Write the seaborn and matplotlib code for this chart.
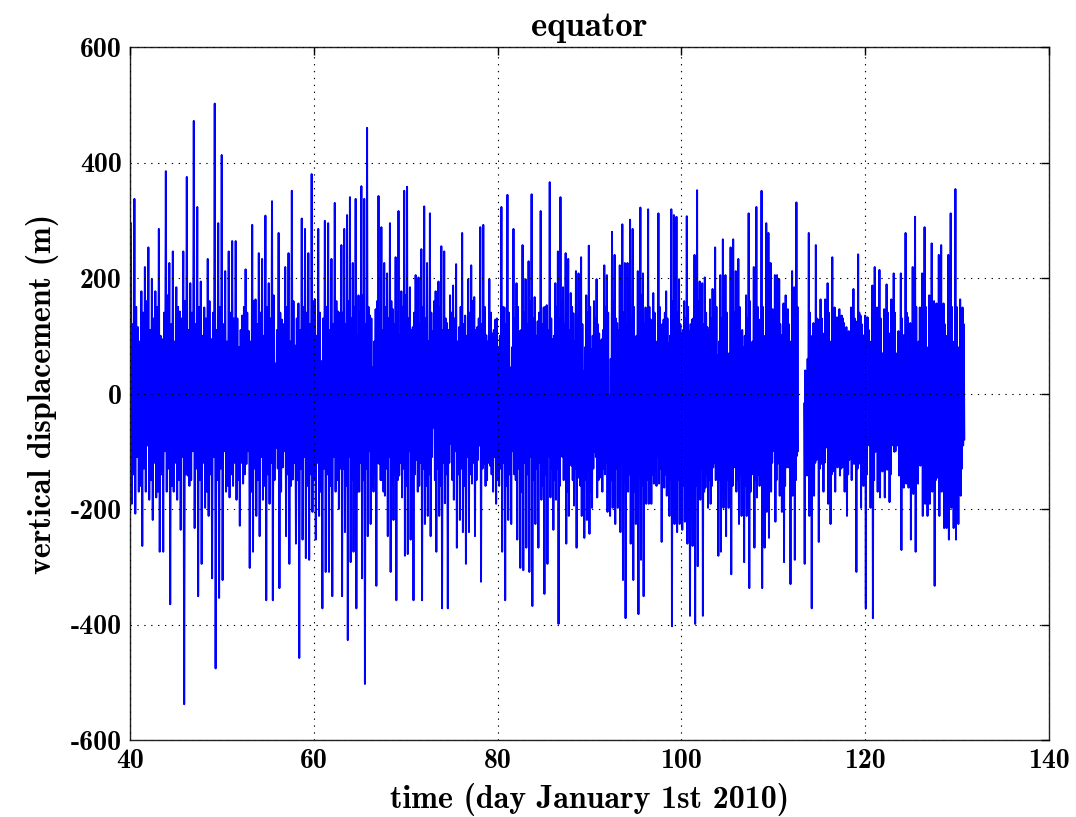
import numpy as np
import pandas as pd
import matplotlib
matplotlib.use("Agg")
import matplotlib.pyplot as plt
import seaborn as sns

# Vertical displacement record at the equator. Each stretch of days holds
# crest / trough pairs followed by the smaller swings between them.
segment_days = [
    (40.1, 51.5), (51.5, 63.0), (63.0, 74.5), (74.5, 86.0),
    (86.0, 97.5), (97.5, 109.0), (109.0, 112.75), (113.35, 120.0),
    (120.0, 130.85),
]
# piece id: a new piece starts after the data gap near day 113
segment_piece = [0, 0, 0, 0, 0, 0, 0, 1, 1]

highs_a = [295, 337, 115, 177, 219, 253, 198, 177, 285, 94, 385, 226, 246, 184, 142,
           246, 375, 191, 472, 323, 194, 149, 233, 94, 502, 295, 413, 212, 246, 264]
lows_a = [-191, -208, -170, -264, -170, -184, -219, -180, -274, -274, -170, -365, -170,
          -184, -236, -538, -142, -150, -233, -351, -295, -198, -212, -320, -476, -354,
          -323, -170, -180, -160]
up_a = [120, 150, 90, 140, 160, 110, 130, 150, 100, 140, 170, 120, 90, 150, 130, 160,
        110, 140, 120, 150, 100, 130, 160, 140, 110, 150, 120, 90, 140, 130]
dn_a = [-140, -110, -160, -130, -90, -150, -120, -170, -140, -100, -130, -160, -120,
        -150, -110, -140, -160, -100, -130, -150, -120, -170, -140, -110, -150, -130,
        -100, -160, -140, -120]

highs_b = [264, 80, 135, 215, 108, 292, 163, 243, 233, 308, 191, 333, 52, 278, 128, 219,
           243, 351, 83, 156, 303, 285, 243, 380, 163, 285, 56, 299, 295, 233, 330, 142]
lows_b = [-184, -229, -156, -122, -302, -274, -212, -247, -184, -358, -191, -358, -94,
          -337, -128, -247, -295, -149, -260, -458, -253, -285, -288, -205, -253, -212,
          -372, -309, -309, -351, -170, -200]
up_b = [130, 110, 150, 140, 90, 160, 120, 140, 100, 150, 130, 170, 110, 140, 120, 150,
        90, 160, 130, 110, 150, 140, 120, 160, 100, 140, 130, 150, 110, 120, 160, 140]
dn_b = [-150, -120, -140, -100, -170, -130, -150, -110, -160, -140, -120, -150, -130,
        -170, -100, -140, -160, -120, -150, -130, -110, -160, -140, -150, -120, -170,
        -130, -140, -160, -110, -150, -130]

highs_c = [257, 285, 309, 340, 226, 337, 170, 359, 337, 460, 135, 45, 146, 342, 288, 226,
           208, 295, 146, 236, 316, 177, 351, 358, 184, 115, 205, 201, 250, 324, 226, 312,
           108, 177, 194, 255, 246]
lows_c = [-351, -240, -427, -292, -274, -372, -170, -320, -503, -247, -226, -170, -333,
          -122, -150, -177, -247, -309, -219, -358, -142, -180, -281, -278, -253, -358,
          -115, -160, -358, -226, -212, -247, -59, -274, -212, -372, -190]
up_c = [140, 120, 160, 130, 150, 100, 140, 170, 120, 150, 130, 90, 160, 140, 110, 150,
        130, 160, 120, 140, 100, 150, 170, 130, 110, 140, 160, 120, 150, 130, 90, 140,
        160, 120, 150, 110, 130]
dn_c = [-130, -160, -110, -150, -140, -170, -120, -150, -130, -100, -160, -140, -120,
        -150, -170, -130, -110, -160, -140, -150, -120, -130, -160, -100, -150, -140,
        -170, -120, -130, -160, -140, -110, -150, -130, -160, -120, -140]

highs_d = [122, 170, 187, 224, 115, 278, 135, 198, 222, 167, 115, 288, 292, 101, 198, 104,
           128, 80, 323, 149, 344, 45, 285, 191, 108, 257, 198, 229, 345, 167, 125, 316,
           149, 153, 366]
lows_d = [-372, -87, -184, -267, -219, -240, -295, -240, -156, -247, -115, -326, -122,
          -150, -125, -170, -191, -160, -274, -358, -219, -226, -140, -253, -302, -306,
          -267, -309, -368, -226, -267, -184, -347, -295, -180]
up_d = [110, 140, 130, 90, 150, 120, 100, 140, 160, 110, 130, 120, 150, 90, 140, 110,
        130, 100, 150, 120, 140, 80, 130, 150, 110, 140, 120, 160, 130, 100, 140, 120,
        150, 110, 130]
dn_d = [-120, -150, -100, -140, -130, -160, -110, -140, -120, -150, -90, -130, -160,
        -120, -140, -110, -150, -130, -120, -160, -140, -100, -150, -130, -170, -120,
        -140, -110, -150, -130, -120, -160, -140, -110, -130]

highs_e = [94, 191, 246, 340, 184, 243, 233, 174, 139, 212, 208, 236, 38, 170, 256, 76,
           160, 198, 104, 94, 222, 205, -3, 280, 240, 122, 222, 293, 226, 226, 301, 285,
           97, 212, 322, 208, 149, 319, 128, 174, 69]
lows_e = [-236, -184, -399, -66, -150, -260, -212, -125, -194, -267, -146, -212, -250,
          -219, -243, -198, -101, -180, -146, -170, -140, -205, -212, -198, -226, -198,
          -240, -323, -389, -170, -260, -323, -226, -382, -288, -351, -191, -191, -191,
          -156, -160]
up_e = [100, 150, 130, 160, 120, 140, 110, 150, 90, 130, 160, 120, 80, 140, 150, 100,
        130, 120, 90, 110, 150, 140, 60, 160, 130, 110, 150, 140, 120, 160, 130, 150,
        100, 140, 170, 120, 130, 150, 110, 140, 90]
dn_e = [-150, -130, -160, -110, -140, -170, -120, -150, -130, -100, -160, -140, -150,
        -120, -170, -130, -110, -150, -140, -130, -120, -160, -150, -140, -130, -170,
        -120, -150, -160, -140, -130, -170, -150, -140, -160, -130, -150, -120, -140,
        -130, -110]

highs_f = [312, 115, 128, 177, 87, 319, 309, 306, 198, 101, 160, 307, 108, 128, 240, 352,
           194, 191, 201, 115, 163, 181, 253, 66, 205, 267, 205, 10, 253, 267, 212, 233,
           104, 80, 170, 312, 66, 219, 323, 128, 351]
lows_f = [-156, -257, -163, -177, -212, -403, -226, -240, -226, -236, -222, -260, -385,
          -264, -399, -299, -184, -385, -163, -198, -191, -128, -150, -281, -274, -198,
          -247, -198, -313, -128, -170, -226, -212, -292, -212, -337, -140, -267, -180,
          -160, -337]
up_f = [150, 120, 140, 130, 100, 160, 150, 140, 120, 110, 130, 150, 120, 130, 140, 160,
        130, 120, 140, 110, 130, 140, 150, 90, 130, 150, 140, 70, 150, 140, 130, 150,
        110, 100, 130, 160, 90, 140, 150, 120, 150]
dn_f = [-130, -150, -140, -160, -150, -170, -140, -150, -130, -160, -150, -140, -170,
        -150, -160, -140, -130, -170, -140, -150, -160, -120, -140, -150, -170, -140,
        -150, -130, -160, -120, -150, -140, -130, -160, -150, -170, -130, -150, -140,
        -130, -160]

highs_g = [87, 295, 278, 226, 146, 205, 205, 198, 101, 156, 170, 146, 80, 212, 184, 331]
lows_g = [-267, -205, -250, -170, -73, -222, -122, -177, -205, -292, -128, -128, -330,
          -177, -288, -108]
up_g = [100, 150, 140, 130, 110, 140, 130, 120, 100, 130, 140, 120, 90, 140, 130, 150]
dn_g = [-140, -130, -150, -120, -100, -150, -110, -140, -150, -160, -120, -110, -160,
        -130, -150, -100]

highs_h = [-17, 38, 278, 94, 122, 257, 128, 163, 104, 163, 191, 80, 236, 149, 132, 146,
           135, 122, 115, 108, 149, 181, 125, 241, 135, 101]
lows_h = [-295, -142, -212, -372, -177, -115, -257, -122, -170, -94, -191, -226, -135,
          -170, -128, -142, -128, -170, -212, -115, -150, -122, -309, -122, -198, -160]
up_h = [40, 60, 140, 100, 120, 130, 110, 130, 100, 120, 140, 90, 130, 120, 110, 120,
        130, 110, 100, 100, 120, 130, 110, 140, 120, 100]
dn_h = [-120, -110, -140, -150, -120, -100, -130, -110, -120, -90, -130, -140, -110,
        -120, -100, -130, -110, -120, -140, -100, -110, -120, -130, -110, -140, -120]

highs_i = [135, 132, 80, 187, 219, 149, 214, 52, 146, 189, 104, 163, 208, 52, 108, 208,
           101, 278, 132, 122, 219, 306, 87, 149, 208, 288, 56, 170, 260, 160, 156, 240,
           257, 156, 94, 240, 312, 52, 354, 52, 163, 149]
lows_i = [-372, -80, -198, -389, -101, -170, -180, -135, -180, -132, -188, -80, -101, -80,
          -142, -271, -163, -156, -163, -253, -174, -274, -156, -125, -212, -191, -212,
          -191, -170, -333, -146, -212, -170, -233, -233, -253, -198, -233, -253, -226,
          -177, -90]
up_i = [120, 110, 90, 130, 140, 120, 130, 70, 120, 140, 100, 130, 140, 70, 100, 130,
        100, 140, 120, 110, 130, 150, 90, 120, 140, 150, 80, 130, 140, 120, 130, 140,
        150, 120, 100, 140, 150, 90, 150, 80, 130, 120]
dn_i = [-140, -90, -130, -150, -100, -120, -130, -110, -130, -110, -140, -90, -100, -90,
        -120, -150, -130, -120, -130, -150, -130, -150, -120, -110, -140, -130, -140,
        -130, -120, -150, -110, -140, -120, -150, -140, -150, -130, -140, -150, -140,
        -130, -80]

highs_all = [highs_a, highs_b, highs_c, highs_d, highs_e, highs_f, highs_g, highs_h, highs_i]
lows_all = [lows_a, lows_b, lows_c, lows_d, lows_e, lows_f, lows_g, lows_h, lows_i]
ups_all = [up_a, up_b, up_c, up_d, up_e, up_f, up_g, up_h, up_i]
dns_all = [dn_a, dn_b, dn_c, dn_d, dn_e, dn_f, dn_g, dn_h, dn_i]

frames = []
for (d0, d1), piece, hi, lo, up, dn in zip(segment_days, segment_piece,
                                           highs_all, lows_all, ups_all, dns_all):
    n = min(len(hi), len(lo), len(up), len(dn))
    vals = np.empty(4 * n)
    vals[0::4] = hi[:n]
    vals[1::4] = lo[:n]
    vals[2::4] = up[:n]
    vals[3::4] = dn[:n]
    days = np.linspace(d0, d1, 4 * n, endpoint=False)
    frames.append(pd.DataFrame({"day": days, "displacement": vals, "piece": piece}))
df = pd.concat(frames, ignore_index=True)

sns.set_theme(style="white")
plt.rcParams["font.family"] = ["cmb10", "DejaVu Serif"]
plt.rcParams["axes.unicode_minus"] = False
plt.rcParams["axes.formatter.use_mathtext"] = False
plt.rcParams["text.color"] = "black"
plt.rcParams["axes.labelcolor"] = "black"
plt.rcParams["xtick.color"] = "black"
plt.rcParams["ytick.color"] = "black"

fig = plt.figure(figsize=(10.76, 8.17), dpi=100)
ax = fig.add_axes([130 / 1076, 77 / 817, 919 / 1076, 693 / 817])

sns.lineplot(data=df, x="day", y="displacement", units="piece", estimator=None,
             sort=False, color="#0000ff", linewidth=1.4, ax=ax)

ax.set_xlim(40, 140)
ax.set_ylim(-600, 600)
ax.set_xticks([40, 60, 80, 100, 120, 140])
ax.set_yticks([-600, -400, -200, 0, 200, 400, 600])
ax.grid(True, color="black", linestyle=(0, (1.2, 5)), linewidth=0.8)
ax.set_axisbelow(False)
for s in ax.spines.values():
    s.set_color("#222222")
    s.set_linewidth(1.0)
ax.tick_params(direction="in", length=6, width=1.0, top=True, right=True,
               labelsize=20, colors="black", pad=6)

ax.set_title("equator", fontsize=25, pad=8, color="black")
ax.set_xlabel("time (day January 1st 2010)", fontsize=23, labelpad=6, color="black")
ax.set_ylabel("vertical displacement (m)", fontsize=23, labelpad=8, color="black")

fig.savefig("out.png", dpi=100)
